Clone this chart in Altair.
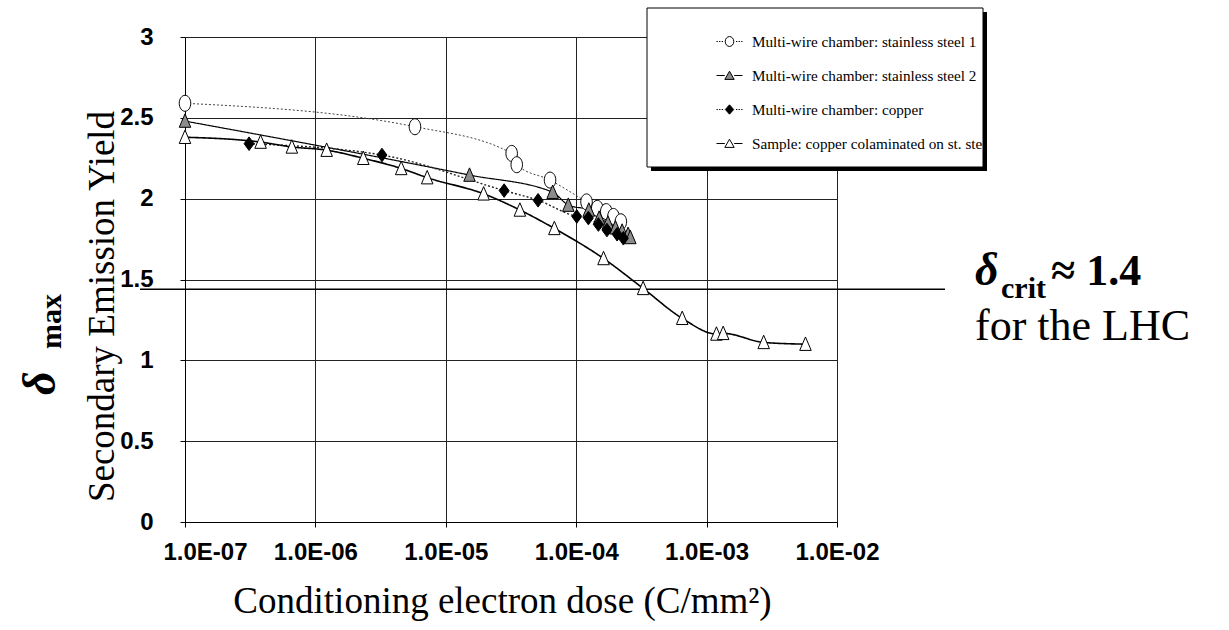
import altair as alt
import pandas as pd

# Maximum secondary emission yield vs. conditioning electron dose (C/mm^2)
ss1_dose = [1e-7, 5.8e-6, 3.2e-5, 3.5e-5, 6.3e-5, 1.2e-4, 1.45e-4, 1.7e-4, 1.93e-4, 2.2e-4]
ss1_sey = [2.59, 2.445, 2.28, 2.21, 2.115, 1.98, 1.94, 1.92, 1.89, 1.857]

ss2_dose = [1e-7, 1.52e-5, 6.6e-5, 8.7e-5, 1.25e-4, 1.5e-4, 1.75e-4, 2.0e-4, 2.25e-4, 2.5e-4, 2.6e-4]
ss2_sey = [2.48, 2.146, 2.04, 1.96, 1.93, 1.88, 1.85, 1.82, 1.80, 1.78, 1.76]

cu_dose = [3.1e-7, 3.24e-6, 2.8e-5, 5.1e-5, 1.01e-4, 1.24e-4, 1.48e-4, 1.72e-4, 2.06e-4, 2.3e-4]
cu_sey = [2.34, 2.27, 2.05, 1.99, 1.89, 1.88, 1.84, 1.806, 1.78, 1.755]

sample_dose = [1e-7, 3.8e-7, 6.6e-7, 1.22e-6, 2.33e-6, 4.55e-6, 7.2e-6, 1.95e-5, 3.7e-5,
               6.8e-5, 1.62e-4, 3.26e-4, 6.5e-4, 1.19e-3, 1.34e-3, 2.74e-3, 5.73e-3]
sample_sey = [2.38, 2.35, 2.32, 2.30, 2.25, 2.187, 2.13, 2.03, 1.93,
              1.816, 1.63, 1.445, 1.26, 1.163, 1.167, 1.111, 1.10]

series_names = [
    "Multi-wire chamber: stainless steel 1",
    "Multi-wire chamber: stainless steel 2",
    "Multi-wire chamber: copper",
    "Sample: copper colaminated on st. steel",
]

# critical yield for electron-cloud build-up in the LHC
delta_crit = [1.44]

x_ticks = [1e-7, 1e-6, 1e-5, 1e-4, 1e-3, 1e-2]
x_tick_labels = ["1.0E-07", "1.0E-06", "1.0E-05", "1.0E-04", "1.0E-03", "1.0E-02"]
y_ticks = [0, 0.5, 1, 1.5, 2, 2.5, 3]

rows = []
for name, xs, ys in zip(series_names,
                        [ss1_dose, ss2_dose, cu_dose, sample_dose],
                        [ss1_sey, ss2_sey, cu_sey, sample_sey]):
    for xv, yv in zip(xs, ys):
        rows.append({"series": name, "dose": xv, "sey": yv})
df = pd.DataFrame(rows)

SERIF = "Liberation Serif"
SANS = "Liberation Sans"

# marker outlines, unit square coordinates
plot_shapes = [
    "M0,-1A0.72,1 0 1,1 0,1A0.72,1 0 1,1 0,-1Z",
    "M0,-0.9L0.72,0.78L-0.72,0.78Z",
    "M0,-0.85L0.62,0L0,0.85L-0.62,0Z",
    "M0,-0.9L0.72,0.78L-0.72,0.78Z",
]


def dotted_stubs(inner):
    segs = []
    pos = 1.0
    while pos - 0.1 > inner:
        segs.append(f"M{-pos:.2f},0H{-pos + 0.1:.2f}M{pos - 0.1:.2f},0H{pos:.2f}")
        pos -= 0.2
    return "".join(segs)


# legend keys: marker with a short piece of the series line on each side
legend_shapes = [
    dotted_stubs(0.33) + "M0.33,0A0.33,0.38 0 1,1 -0.33,0A0.33,0.38 0 1,1 0.33,0Z",
    "M-1,0H-0.36M0.36,0H1M0,-0.33L0.36,0.3L-0.36,0.3Z",
    dotted_stubs(0.32) + "M0,-0.36L0.32,0L0,0.36L-0.32,0Z",
    "M-1,0H-0.36M0.36,0H1M0,-0.33L0.36,0.3L-0.36,0.3Z",
]
fills = ["white", "#8c8c8c", "black", "white"]

tick_expr = "[" + ",".join(f"'{t}'" for t in x_tick_labels) + "][round(log(datum.value)/LN10)+7]"

x_enc = alt.X(
    "dose:Q",
    scale=alt.Scale(type="log", domain=[x_ticks[0], x_ticks[-1]], nice=False),
    axis=alt.Axis(
        values=x_ticks, labelExpr=tick_expr, grid=True, labelFlush=False,
        labelOffset={"condition": {"test": "datum.value < 2e-7", "value": 20}, "value": 0},
        labelFont=SANS, labelFontWeight="bold", labelFontSize=24, labelColor="black",
        labelPadding=13, tickSize=5,
        title="Conditioning electron dose (C/mm²)",
        titleFont=SERIF, titleFontSize=37, titleFontWeight="normal", titleColor="black",
        titleX=317, titleY=90, titleAlign="center", titleBaseline="alphabetic",
    ),
)
y_enc = alt.Y(
    "sey:Q",
    scale=alt.Scale(domain=[0, 3], nice=False),
    axis=alt.Axis(
        values=y_ticks, format="~g", grid=True, labelFlush=False,
        labelFont=SANS, labelFontWeight="bold", labelFontSize=24, labelColor="black",
        labelPadding=27, tickSize=5,
        title="Secondary Emission Yield",
        titleFont=SERIF, titleFontSize=37, titleFontWeight="normal", titleColor="black",
        titleX=-72, titleY=269, titleAngle=270, titleAlign="center", titleBaseline="alphabetic",
    ),
)

base = alt.Chart(df)

crit_line = alt.Chart(pd.DataFrame({"sey": delta_crit})).mark_rule(
    color="black", strokeWidth=1.6
).encode(y="sey:Q", x=alt.value(-45), x2=alt.value(760))

lines = base.mark_line(interpolate="monotone").encode(
    x=x_enc, y=y_enc, detail="series:N",
    stroke=alt.Stroke("series:N", scale=alt.Scale(domain=series_names, range=["#444444", "black", "#222222", "black"]), legend=None),
    strokeDash=alt.StrokeDash("series:N", scale=alt.Scale(domain=series_names, range=[[2, 2], [1, 0], [2, 2], [1, 0]]), legend=None),
    strokeWidth=alt.StrokeWidth("series:N", scale=alt.Scale(domain=series_names, range=[1.0, 1.6, 1.1, 1.5]), legend=None),
)

points = base.mark_point(filled=True, stroke="black", strokeWidth=1, size=256, opacity=1).encode(
    x=x_enc, y=y_enc,
    shape=alt.Shape("series:N", scale=alt.Scale(domain=series_names, range=plot_shapes), legend=None),
    fill=alt.Fill("series:N", scale=alt.Scale(domain=series_names, range=fills), legend=None),
)

one = pd.DataFrame({"k": [0]})
shadow = alt.Chart(one).mark_rect(color="black").encode(
    x=alt.value(466), x2=alt.value(802), y=alt.value(-25), y2=alt.value(134)
)
frame = alt.Chart(one).mark_rect(fill="white", stroke="black", strokeWidth=1).encode(
    x=alt.value(462), x2=alt.value(798), y=alt.value(-29), y2=alt.value(130)
)

legend_props = dict(
    title=None, orient="none", legendX=531, legendY=-9, padding=0,
    labelFont=SERIF, labelFontSize=15.2, labelColor="black", labelOffset=9, labelLimit=400,
    labelExpr="slice(datum.label, 0, 37)",
    symbolSize=676, symbolStrokeWidth=1, rowPadding=12,
)
key = base.transform_filter("false").mark_point(filled=True, strokeWidth=1, opacity=1).encode(
    x=x_enc, y=y_enc,
    shape=alt.Shape("series:N", scale=alt.Scale(domain=series_names, range=legend_shapes), legend=alt.Legend(**legend_props)),
    fill=alt.Fill("series:N", scale=alt.Scale(domain=series_names, range=fills), legend=alt.Legend(**legend_props)),
    stroke=alt.Stroke("series:N", scale=alt.Scale(domain=series_names, range=["black"] * 4), legend=alt.Legend(**legend_props)),
)


def label(text, x, y, size, weight="bold", style="normal", angle=0):
    return alt.Chart(one).mark_text(
        text=text, font=SERIF, fontSize=size, fontWeight=weight, fontStyle=style,
        angle=angle, align="left", baseline="alphabetic", color="black",
    ).encode(x=alt.value(x), y=alt.value(y))


annotations = [
    label("δ", -130, 358, 46, style="italic", angle=270),
    label("max", -124, 312, 30, angle=270),
    label("δ", 790, 248, 46, style="italic"),
    label("crit", 816, 261, 30),
    label("≈ 1.4", 866, 248, 44),
    label("for the LHC", 790, 303, 44, weight="normal"),
]

chart = alt.layer(crit_line, lines, points, shadow, frame, key, *annotations).resolve_scale(
    shape="independent", fill="independent", stroke="independent"
).properties(
    width=652, height=485,
    autosize=alt.AutoSizeParams(type="none"),
    padding={"left": 185, "top": 37, "right": 392, "bottom": 108},
    background="white",
).configure_view(strokeWidth=0).configure_axis(
    gridColor="#222222", gridWidth=1, gridOpacity=1,
    domainColor="black", domainWidth=1, tickColor="black", tickWidth=1,
)

chart.save("out.html", embed_options={"renderer": "svg", "actions": False})
